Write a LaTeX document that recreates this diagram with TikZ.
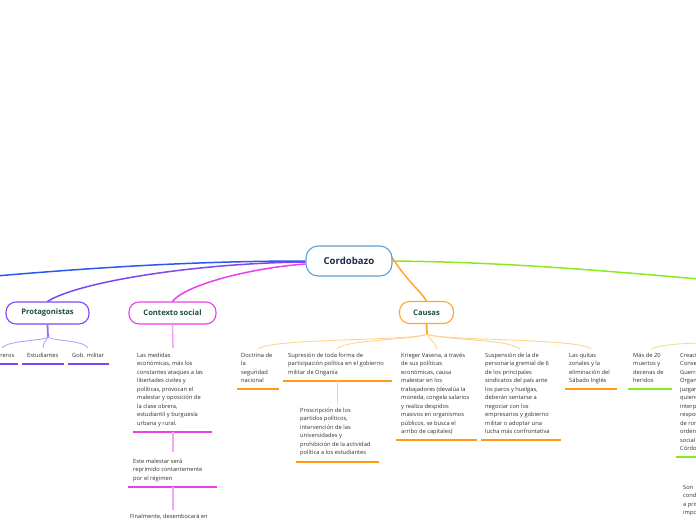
\documentclass[tikz,border=0pt]{standalone}
\usepackage{fontspec}
\setmainfont{Open Sans}
\usetikzlibrary{backgrounds}
\definecolor{cblue}{HTML}{2A58F0}
\definecolor{rootb}{HTML}{5B9FD6}
\definecolor{roott}{HTML}{1C2B4C}
\definecolor{titlet}{HTML}{1F4E3D}
\definecolor{cpurple}{HTML}{7B48F2}
\definecolor{lpurple}{HTML}{B9A2F8}
\definecolor{cmag}{HTML}{EC3EEC}
\definecolor{lmag}{HTML}{F6A6F6}
\definecolor{corange}{HTML}{FFA62E}
\definecolor{uorange}{HTML}{FF9A12}
\definecolor{lorange}{HTML}{FFD38F}
\definecolor{cgreen}{HTML}{8AEA22}
\definecolor{lgreen}{HTML}{C8F58C}
\definecolor{txtc}{HTML}{2E2E2E}
\newcommand\mltext[1]{\parbox[t]{160pt}{\raggedright #1}}
\tikzset{
  rootbox/.style={draw=rootb, line width=1.1pt, rounded corners=12pt, fill=white,
    minimum width=86pt, minimum height=30pt, inner sep=0pt, text=roott,
    font=\fontsize{9.6}{11}\selectfont\bfseries},
  titlebox/.style={line width=1.1pt, rounded corners=10pt, fill=white,
    minimum height=22pt, inner sep=0pt, text=titlet,
    font=\fontsize{7.6}{9}\selectfont\bfseries},
  txt/.style={anchor=base west, inner sep=0pt, text=txtc,
    font=\fontsize{5.75}{8.5}\selectfont},
  mainedge/.style={line width=1.5pt},
  subedge/.style={line width=0.9pt},
  uline/.style={line width=1.2pt},
}
\begin{document}
\begin{tikzpicture}[x=1pt,y=-1pt]
\useasboundingbox (0,0) rectangle (696,520);
% central and title nodes
\node[rootbox] (root) at (349,261) {Cordobazo};
\node[titlebox, draw=cpurple, minimum width=83pt] (prot) at (47.5,313) {Protagonistas};
\node[titlebox, draw=cmag, minimum width=87pt] (ctx) at (172.5,313) {Contexto social};
\node[titlebox, draw=corange, minimum width=54pt] (caus) at (426.5,312.5) {Causas};
\coordinate (leftend) at (-10,276.5);
\coordinate (rightend) at (720,281);
\begin{scope}[on background layer]
\draw[mainedge, cblue] (root.west) .. controls (200,261) and (100,267) .. (leftend);
\draw[mainedge, cpurple] ([yshift=-1pt]root.west) .. controls (200,263) and (80,281) .. (prot.north);
\draw[mainedge, cmag] ([yshift=-3pt]root.west) .. controls (250,268) and (185,285) .. (ctx.north);
\draw[mainedge, cgreen] (root.east) .. controls (500,262) and (600,270) .. (rightend);
\draw[mainedge, corange] ([xshift=-5pt,yshift=11pt]root.east) .. controls (405,280) and (420,290) .. (caus.north);
\end{scope}
% Protagonistas children
\coordinate (pstem) at (48,337);
\draw[line width=1.8pt, cpurple!80] (prot.south) -- (pstem);
\node[txt, anchor=base east] (obr) at (14.5,357) {Obreros};
\node[txt] (est) at (27,357) {Estudiantes};
\node[txt] (gob) at (72,357) {Gob. militar};
\coordinate (pc1) at (2,348);
\coordinate (pc2) at (43,348);
\coordinate (pc3) at (88,348);
\draw[subedge, lpurple] (pstem) .. controls (44,341) and (8,340) .. (pc1);
\draw[subedge, lpurple] (pstem) .. controls (47,340) and (43,342) .. (pc2);
\draw[subedge, lpurple] (pstem) .. controls (52,341) and (84,340) .. (pc3);
\draw[uline, cpurple] (-2,364) -- (18,364);
\draw[uline, cpurple] (22,364) -- (64,364);
\draw[uline, cpurple] (68,364) -- (109,364);
% Contexto social chain
\node[txt] (c1) at (137,357) {\mltext{Las medidas\\ económicas, más los\\ constantes ataques a las\\ libertades civiles y\\ políticas, provocan el\\ malestar y oposición de\\ la clase obrera,\\ estudiantil y burguesía\\ urbana y rural.}};
\coordinate (c1a) at (133,432); \coordinate (c1b) at (212,432);
\coordinate (c1m) at (173,432); \coordinate (c2t) at (173,452);
\draw[line width=1.6pt, lmag] (ctx.south) -- (173,348);
\draw[uline, cmag] (c1a) -- (c1b);
\draw[line width=1.6pt, lmag] (c1m) -- (c2t);
\node[txt] (c2) at (133,463) {\mltext{Este malestar será\\ reprimido contantemente\\ por el régimen}};
\coordinate (c2a) at (128,487); \coordinate (c2b) at (217,487);
\coordinate (c2m) at (173,487); \coordinate (c3t) at (173,510);
\draw[uline, cmag] (c2a) -- (c2b);
\draw[line width=1.6pt, lmag] (c2m) -- (c3t);
\node[txt] (c3) at (130,518) {Finalmente, desembocará en};
% Causas children
\coordinate (cstem) at (427,334);
\draw[line width=1.8pt, corange] (caus.south) -- (cstem);
\coordinate (k1) at (258,349);
\coordinate (k2) at (337,349);
\coordinate (k3) at (437,349);
\coordinate (k4) at (520,349);
\coordinate (k5) at (591,349);
\draw[subedge, lorange] (cstem) .. controls (415,341) and (270,338) .. (k1);
\draw[subedge, lorange] (cstem) .. controls (418,340) and (345,339) .. (k2);
\draw[subedge, lorange] (cstem) .. controls (430,340) and (435,342) .. (k3);
\draw[subedge, lorange] (cstem) .. controls (440,340) and (510,339) .. (k4);
\draw[subedge, lorange] (cstem) .. controls (440,341) and (580,338) .. (k5);
\node[txt] (d1) at (241,357) {\mltext{Doctrina de\\ la\\ seguridad\\ nacional}};
\draw[uline, uorange] (237,389) -- (279,389);
\node[txt] (d2) at (288,357) {\mltext{Supresión de toda forma de\\ participación política en el gobierno\\ militar de Onganía}};
\coordinate (d2m) at (337,381); \coordinate (d2s) at (337,404);
\draw[uline, uorange] (283,381) -- (392,381);
\draw[subedge, lorange] (d2m) -- (d2s);
\node[txt] (d2b) at (300,412) {\mltext{Proscripción de los\\ partidos políticos,\\ intervención de las\\ universidades y\\ prohibición de la actividad\\ política a los estudiantes}};
\draw[uline, uorange] (296,462) -- (379,462);
\node[txt] (d3) at (401,357) {\mltext{Krieger Vasena, a través\\ de sus políticas\\ económicas, causa\\ malestar en los\\ trabajadores (devalúa la\\ moneda, congela salarios\\ y realiza despidos\\ masivos en organismos\\ públicos, se busca el\\ arribo de capitales)}};
\draw[uline, uorange] (396,440) -- (477,440);
\node[txt] (d4) at (485,357) {\mltext{Suspensión de la de\\ personaría gremial de 6\\ de los principales\\ sindicatos del país ante\\ los paros y huelgas,\\ deberán sentarse a\\ negociar con los\\ empresarios y gobierno\\ militar o adoptar una\\ lucha más confrontativa}};
\draw[uline, uorange] (481,440) -- (561,440);
\node[txt] (d5) at (569,357) {\mltext{Las quitas\\ zonales y la\\ eliminación del\\ Sábado Inglés}};
\draw[uline, uorange] (565,389) -- (617,389);
% green branch children (cut off at right)
\coordinate (gend) at (651,349);
\coordinate (gright) at (710,343);
\draw[subedge, lgreen] (gend) .. controls (660,345) and (680,343) .. (gright);
\node[txt] (g1) at (633,357) {\mltext{Más de 20\\ muertos y\\ decenas de\\ heridos}};
\draw[uline, cgreen] (628,389) -- (672,389);
\node[txt] (g2) at (680,357) {\mltext{Creación del\\ Consejo de\\ Guerra\\ Organizado\\ juzgar a\\ quienes\\ interpreta\\ responsables\\ de romper el\\ orden\\ social en\\ Córdoba}};
\draw[uline, cgreen] (676,457) -- (700,457);
\node[txt] (g3) at (683,489) {\mltext{Son\\ condenados\\ a prisión\\ importantes}};
\end{tikzpicture}
\end{document}
